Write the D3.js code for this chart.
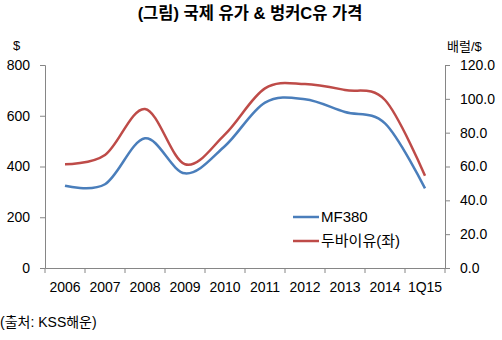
<!DOCTYPE html>
<html><head><meta charset="utf-8">
<script src="https://cdn.jsdelivr.net/npm/d3@7"></script>
<style>body{margin:0;background:#fff;} text{font-family:"Liberation Sans",Arial,"Noto Sans CJK KR",sans-serif;}</style>
</head><body>
<svg id="c" width="502" height="340"></svg>
<script>
const categories = ["2006","2007","2008","2009","2010","2011","2012","2013","2014","1Q15"];
const mf380 = [324, 330, 511, 373, 481, 652, 665, 615, 570, 314];
const dubai = [61.3, 66.8, 94, 61.3, 79, 106.2, 108.7, 105.2, 99.3, 54.6];
const leftTicks = [0, 200, 400, 600, 800];
const rightTicks = [0, 20, 40, 60, 80, 100, 120];
const seriesNames = ["MF380", "두바이유(좌)"];
const colors = ["#4A7EBB", "#BE4B48"];

const svg = d3.select("#c");
const L = 45, R = 445, T = 65, B = 268;
const x = d3.scaleBand().domain(categories).range([L, R]);
const yL = d3.scaleLinear().domain([0, 800]).range([B, T]);
const yR = d3.scaleLinear().domain([0, 120]).range([B, T]);
const axisColor = "#868686";

svg.append("text").attr("x", 250).attr("y", 19).attr("text-anchor", "middle")
  .attr("font-size", 16.5).attr("font-weight", "bold").text("(그림) 국제 유가 & 벙커C유 가격");
svg.append("text").attr("x", 13).attr("y", 50).attr("font-size", 13).text("$");
svg.append("text").attr("x", 447).attr("y", 51).attr("font-size", 13).text("배럴/$");
svg.append("text").attr("x", 0).attr("y", 327).attr("font-size", 14).text("(출처: KSS해운)");

function styleAxis(g){
  g.selectAll("path").attr("stroke", axisColor);
  g.selectAll("line").attr("stroke", axisColor);
  g.selectAll("text").attr("font-size", 14).attr("fill", "#000")
    .attr("font-family", '"Liberation Sans",Arial,sans-serif');
}
const gl = svg.append("g").attr("transform", `translate(${L},0)`)
  .call(d3.axisLeft(yL).tickValues(leftTicks).tickSize(5).tickSizeOuter(5).tickPadding(10));
styleAxis(gl);
const gr = svg.append("g").attr("transform", `translate(${R},0)`)
  .call(d3.axisRight(yR).tickValues(rightTicks).tickFormat(d3.format(".1f")).tickSize(5).tickSizeOuter(5).tickPadding(10));
styleAxis(gr);
const gx = svg.append("g").attr("transform", `translate(0,${B})`)
  .call(d3.axisBottom(x).tickSize(0).tickPadding(14));
styleAxis(gx);
gx.selectAll(".tick text").attr("dy", "0.71em");
const edges = categories.map(c => x(c)).concat([R]);
gx.selectAll("line.edge").data(edges).enter().append("line").attr("class","edge")
  .attr("x1", d => d).attr("x2", d => d).attr("y1", 0).attr("y2", 5).attr("stroke", axisColor);

const cx = c => x(c) + x.bandwidth() / 2;
const lineL = d3.line().x((d,i) => cx(categories[i])).y(d => yL(d)).curve(d3.curveCatmullRom.alpha(0));
const lineR = d3.line().x((d,i) => cx(categories[i])).y(d => yR(d)).curve(d3.curveCatmullRom.alpha(0));
svg.append("path").attr("d", lineL(mf380)).attr("fill","none").attr("stroke", colors[0]).attr("stroke-width", 2.5);
svg.append("path").attr("d", lineR(dubai)).attr("fill","none").attr("stroke", colors[1]).attr("stroke-width", 2.5);

const lg = svg.append("g");
seriesNames.forEach((n, i) => {
  const yy = 217 + i * 24;
  lg.append("line").attr("x1", 293).attr("x2", 319).attr("y1", yy).attr("y2", yy)
    .attr("stroke", colors[i]).attr("stroke-width", 2.5);
  lg.append("text").attr("x", 321).attr("y", yy).attr("dy", "0.35em").attr("font-size", 15).text(n);
});
</script>
</body></html>
